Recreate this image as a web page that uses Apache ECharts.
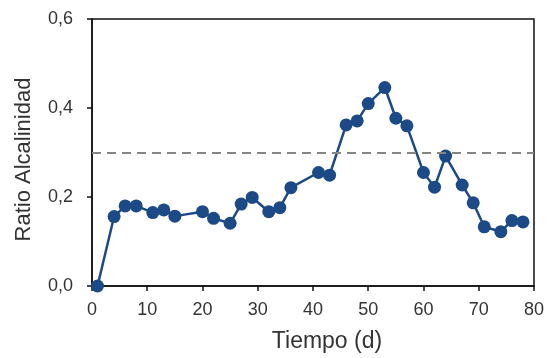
<!DOCTYPE html>
<html>
<head>
<meta charset="utf-8">
<script src="https://cdn.jsdelivr.net/npm/echarts@6/dist/echarts.min.js"></script>
<style>
  html, body { margin: 0; padding: 0; background: #fff; }
  #chart { width: 547px; height: 358px; }
</style>
</head>
<body>
<div id="chart"></div>
<script>
// dias de muestreo y ratio de alcalinidad
var days = [1, 4, 6, 8, 11, 13, 15, 20, 22, 25, 27, 29, 32, 34, 36, 41, 43,
            46, 48, 50, 53, 55, 57, 60, 62, 64, 67, 69, 71, 74, 76, 78];
var ratio = [0.0, 0.156, 0.18, 0.18, 0.165, 0.171, 0.157, 0.167, 0.152, 0.141, 0.184, 0.199, 0.167, 0.176, 0.221, 0.255, 0.249,
             0.362, 0.371, 0.41, 0.446, 0.377, 0.36, 0.255, 0.222, 0.292, 0.227, 0.187, 0.133, 0.122, 0.147, 0.144];
var limite = 0.3;

var points = days.map(function (d, i) { return [d, ratio[i]]; });

var chart = echarts.init(document.getElementById('chart'));
var labelStyle = { fontFamily: 'Liberation Sans', fontSize: 18, color: '#333' };

chart.setOption({
  animation: false,
  grid: {
    left: 92, right: 12, top: 19, bottom: 72,
    show: true,
    borderColor: '#111',
    borderWidth: 1.5
  },
  xAxis: {
    type: 'value',
    min: 0, max: 80, interval: 10,
    name: 'Tiempo (d)',
    nameLocation: 'middle',
    nameGap: 44,
    nameTextStyle: { fontFamily: 'Liberation Sans', fontSize: 23, color: '#333', padding: [0, 0, 0, 28] },
    axisLine: { lineStyle: { color: '#111', width: 1.5 } },
    axisTick: { show: true, length: 5, lineStyle: { color: '#111', width: 1.5 } },
    axisLabel: Object.assign({ margin: 15 }, labelStyle),
    splitLine: { show: false }
  },
  yAxis: {
    type: 'value',
    min: 0, max: 0.6, interval: 0.2,
    name: 'Ratio Alcalinidad',
    nameLocation: 'middle',
    nameGap: 57,
    nameTextStyle: { fontFamily: 'Liberation Sans', fontSize: 22, color: '#333', padding: [0, 14, 0, 0] },
    axisLine: { show: true, lineStyle: { color: '#111', width: 1.5 } },
    axisTick: { show: true, length: 5, lineStyle: { color: '#111', width: 1.5 } },
    axisLabel: Object.assign({
      margin: 19,
      formatter: function (v) { return v.toFixed(1).replace('.', ','); }
    }, labelStyle),
    splitLine: { show: false }
  },
  series: [{
    type: 'line',
    data: points,
    symbol: 'circle',
    symbolSize: 13,
    itemStyle: { color: '#1c4a87' },
    lineStyle: { color: '#1c4a87', width: 2.5 },
    markLine: {
      silent: true,
      symbol: 'none',
      label: { show: false },
      lineStyle: { color: '#858585', type: [9, 6], width: 2 },
      data: [{ yAxis: limite }]
    }
  }]
});
</script>
</body>
</html>
